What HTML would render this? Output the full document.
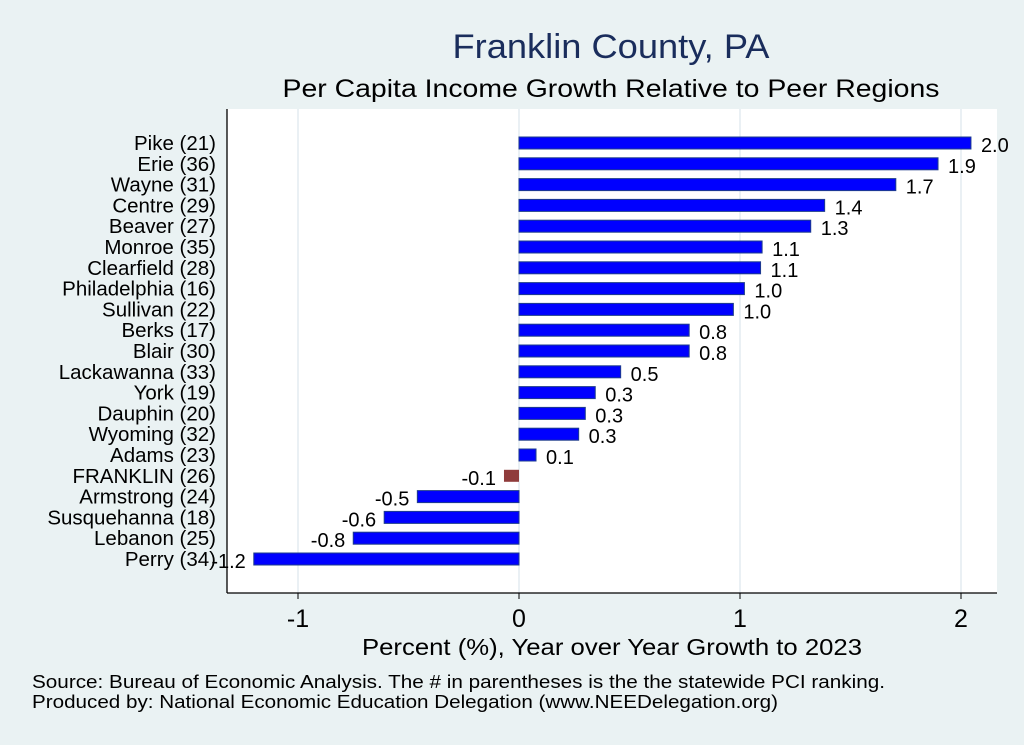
<!DOCTYPE html>
<html><head><meta charset="utf-8"><style>
body{margin:0;background:#eaf2f3;}
svg{display:block;font-family:"Liberation Sans",sans-serif;}
</style></head><body>
<svg id="chart" width="1024" height="745">
<rect width="1024" height="745" fill="#eaf2f3"/>
<text x="611" y="58" font-size="34" fill="#1a2d5c" text-anchor="middle" textLength="317" lengthAdjust="spacingAndGlyphs">Franklin County, PA</text>
<text x="611" y="97" font-size="25" fill="#000" text-anchor="middle" textLength="657" lengthAdjust="spacingAndGlyphs">Per Capita Income Growth Relative to Peer Regions</text>
<rect x="227" y="109" width="770" height="484" fill="#fff"/>
<g id="grid"></g><g id="bars"></g><g id="ylabels"></g><g id="xticks"></g>
<line x1="227" y1="109" x2="227" y2="593" stroke="#000" stroke-width="1.3"/>
<line x1="227" y1="593" x2="997" y2="593" stroke="#000" stroke-width="1.3"/>
<text x="612" y="655" font-size="23" text-anchor="middle" textLength="500" lengthAdjust="spacingAndGlyphs">Percent (%), Year over Year Growth to 2023</text>
<text x="32" y="688" font-size="18" textLength="853" lengthAdjust="spacingAndGlyphs">Source: Bureau of Economic Analysis. The # in parentheses is the the statewide PCI ranking.</text>
<text x="32" y="708" font-size="18" textLength="746" lengthAdjust="spacingAndGlyphs">Produced by: National Economic Education Delegation (www.NEEDelegation.org)</text>
</svg>
<script>
const categories=["Pike (21)","Erie (36)","Wayne (31)","Centre (29)","Beaver (27)","Monroe (35)","Clearfield (28)","Philadelphia (16)","Sullivan (22)","Berks (17)","Blair (30)","Lackawanna (33)","York (19)","Dauphin (20)","Wyoming (32)","Adams (23)","FRANKLIN (26)","Armstrong (24)","Susquehanna (18)","Lebanon (25)","Perry (34)"];
const values=[2.045,1.896,1.705,1.383,1.32,1.10,1.093,1.02,0.97,0.77,0.77,0.46,0.345,0.30,0.27,0.077,-0.068,-0.46,-0.61,-0.75,-1.20];
const valueLabels=["2.0","1.9","1.7","1.4","1.3","1.1","1.1","1.0","1.0","0.8","0.8","0.5","0.3","0.3","0.3","0.1","-0.1","-0.5","-0.6","-0.8","-1.2"];
const xTicks=[-1,0,1,2];
const xTickLabels=["-1","0","1","2"];
const NS="http://www.w3.org/2000/svg";
const xs=v=>519+v*221;
const ys=i=>143+i*20.8;
function mk(tag,attrs,parent){const e=document.createElementNS(NS,tag);for(const k in attrs)e.setAttribute(k,attrs[k]);document.getElementById(parent).appendChild(e);return e;}
xTicks.forEach((t,i)=>{
  const g=mk("line",{x1:xs(t),x2:xs(t),y1:109,y2:593,stroke:"#e3ecf0","stroke-width":1.5},"grid");
  
  
  const tk=mk("line",{x1:xs(t),x2:xs(t),y1:593,y2:599,stroke:"#000"},"xticks");
  
  
  const tl=mk("text",{x:xs(t),y:627,"font-size":25,"text-anchor":"middle"},"xticks");
  tl.textContent=xTickLabels[i];
  
  
});
categories.forEach((c,i)=>{
  const v=values[i],y=ys(i),fr=c.startsWith("FRANKLIN");
  const x0=Math.min(xs(0),xs(v)),w=Math.abs(xs(v)-xs(0));
  const r=mk("rect",{x:x0,y:y-6,width:w,height:12,fill:fr?"#8f3b3b":"#0000ff",stroke:fr?"none":"#1e3c8c","stroke-width":1},"bars");
  
  
  const vl=mk("text",{x:v>=0?xs(v)+10:xs(v)-8,y:y+9,"font-size":20,"text-anchor":v>=0?"start":"end"},"bars");
  vl.textContent=valueLabels[i];
  
  
  const cl=mk("text",{x:216,y:y+7,"font-size":20.5,"text-anchor":"end"},"ylabels");
  cl.textContent=c;
  
  
});
</script>
</body></html>
